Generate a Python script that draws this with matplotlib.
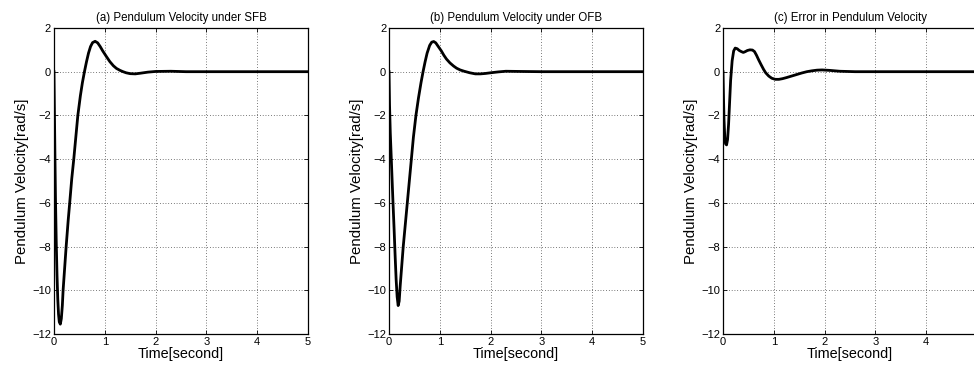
import matplotlib.pyplot as plt

plt.rcParams['font.family'] = ['Liberation Sans', 'DejaVu Sans']

# (a) pendulum velocity under state feedback
t_sfb = [0.0, 0.01, 0.02, 0.03, 0.045, 0.06, 0.075, 0.09, 0.105, 0.125, 0.145,
         0.165, 0.18, 0.21, 0.24, 0.28, 0.31, 0.35, 0.39, 0.43, 0.47, 0.52,
         0.56, 0.60, 0.64, 0.68, 0.72, 0.76, 0.81, 0.86, 0.91, 0.96, 1.03,
         1.10, 1.17, 1.23, 1.30, 1.36, 1.42, 1.50, 1.60, 1.70, 1.85, 2.0,
         2.3, 2.6, 3.0, 4.0, 5.0]
v_sfb = [0.0, -2.0, -4.0, -5.8, -7.8, -9.3, -10.4, -11.1, -11.45, -11.55, -11.3,
         -10.7, -10.0, -9.0, -8.0, -6.8, -6.0, -4.9, -4.0, -3.0, -2.0, -1.1,
         -0.5, 0.0, 0.45, 0.85, 1.15, 1.33, 1.39, 1.32, 1.15, 0.95, 0.70,
         0.46, 0.27, 0.15, 0.06, 0.0, -0.05, -0.09, -0.1, -0.07, -0.02, 0.01,
         0.02, 0.0, 0.0, 0.0, 0.0]

# (b) pendulum velocity under output feedback
t_ofb = [0.0, 0.01, 0.025, 0.05, 0.075, 0.10, 0.12, 0.14, 0.16, 0.18, 0.20,
         0.22, 0.25, 0.28, 0.32, 0.36, 0.40, 0.44, 0.48, 0.53, 0.58, 0.63,
         0.67, 0.71, 0.75, 0.80, 0.84, 0.88, 0.92, 0.97, 1.03, 1.08, 1.13,
         1.20, 1.27, 1.33, 1.40, 1.48, 1.59, 1.70, 1.80, 1.90, 2.0, 2.15,
         2.3, 2.6, 3.0, 4.0, 5.0]
v_ofb = [0.0, -1.5, -2.8, -4.3, -5.8, -7.2, -8.4, -9.5, -10.3, -10.7, -10.5,
         -9.8, -8.9, -8.0, -7.0, -6.0, -5.0, -4.0, -3.0, -2.0, -1.2, -0.5,
         0.0, 0.45, 0.85, 1.2, 1.35, 1.38, 1.32, 1.15, 0.95, 0.75, 0.58,
         0.40, 0.26, 0.16, 0.08, 0.02, -0.05, -0.1, -0.1, -0.08, -0.05, -0.01,
         0.02, 0.01, 0.0, 0.0, 0.0]

# (c) error between the two
t_err = [0.0, 0.01, 0.02, 0.035, 0.05, 0.07, 0.09, 0.11, 0.13, 0.15, 0.18,
         0.21, 0.24, 0.28, 0.32, 0.36, 0.40, 0.44, 0.48, 0.53, 0.58, 0.62,
         0.66, 0.70, 0.75, 0.80, 0.84, 0.90, 0.96, 1.03, 1.10, 1.17, 1.25,
         1.35, 1.45, 1.55, 1.65, 1.75, 1.85, 1.95, 2.1, 2.3, 2.6, 3.0, 4.0,
         5.0]
v_err = [0.0, -1.2, -2.2, -3.0, -3.3, -3.35, -3.1, -2.4, -1.4, -0.4, 0.5,
         0.95, 1.08, 1.05, 0.97, 0.92, 0.88, 0.92, 0.97, 1.0, 0.99, 0.92,
         0.75, 0.55, 0.32, 0.1, -0.05, -0.2, -0.3, -0.35, -0.35, -0.32, -0.27,
         -0.2, -0.13, -0.06, 0.0, 0.04, 0.07, 0.08, 0.06, 0.02, 0.0, 0.0, 0.0,
         0.0]

titles = ['(a) Pendulum Velocity under SFB',
          '(b) Pendulum Velocity under OFB',
          '(c) Error in Pendulum Velocity']
series = [(t_sfb, v_sfb), (t_ofb, v_ofb), (t_err, v_err)]
x_ticks = [0, 1, 2, 3, 4, 5]
y_ticks = [-12, -10, -8, -6, -4, -2, 0, 2]

fig = plt.figure(figsize=(9.74, 3.72), dpi=100)
lefts = [0.0554, 0.3994, 0.7423]

for i, (left, title, (t, v)) in enumerate(zip(lefts, titles, series)):
    ax = fig.add_axes([left, 0.1022, 0.2608, 0.8226])
    ax.plot(t, v, color='black', linewidth=2.0)
    ax.set_xlim(0, 5)
    ax.set_ylim(-12, 2)
    ax.set_xticks(x_ticks)
    if i == 2:
        # last panel runs past the page edge, its "5" is not visible
        ax.set_xticklabels([str(x) for x in x_ticks[:-1]] + [''])
    ax.set_yticks(y_ticks)
    ax.grid(True, color='black', linestyle=(0, (1, 3)), linewidth=0.5)
    ax.tick_params(direction='in', top=True, right=True, length=3,
                   labelsize=8, pad=2, width=0.6)
    for sp in ax.spines.values():
        sp.set_linewidth(0.9)
    ax.set_title(title, fontsize=8.3, pad=5)
    ax.set_xlabel('Time[second]', fontsize=10.4, labelpad=0)
    ax.set_ylabel('Pendulum Velocity[rad/s]', fontsize=10.8, labelpad=2)

fig.savefig('out.png', dpi=100)
